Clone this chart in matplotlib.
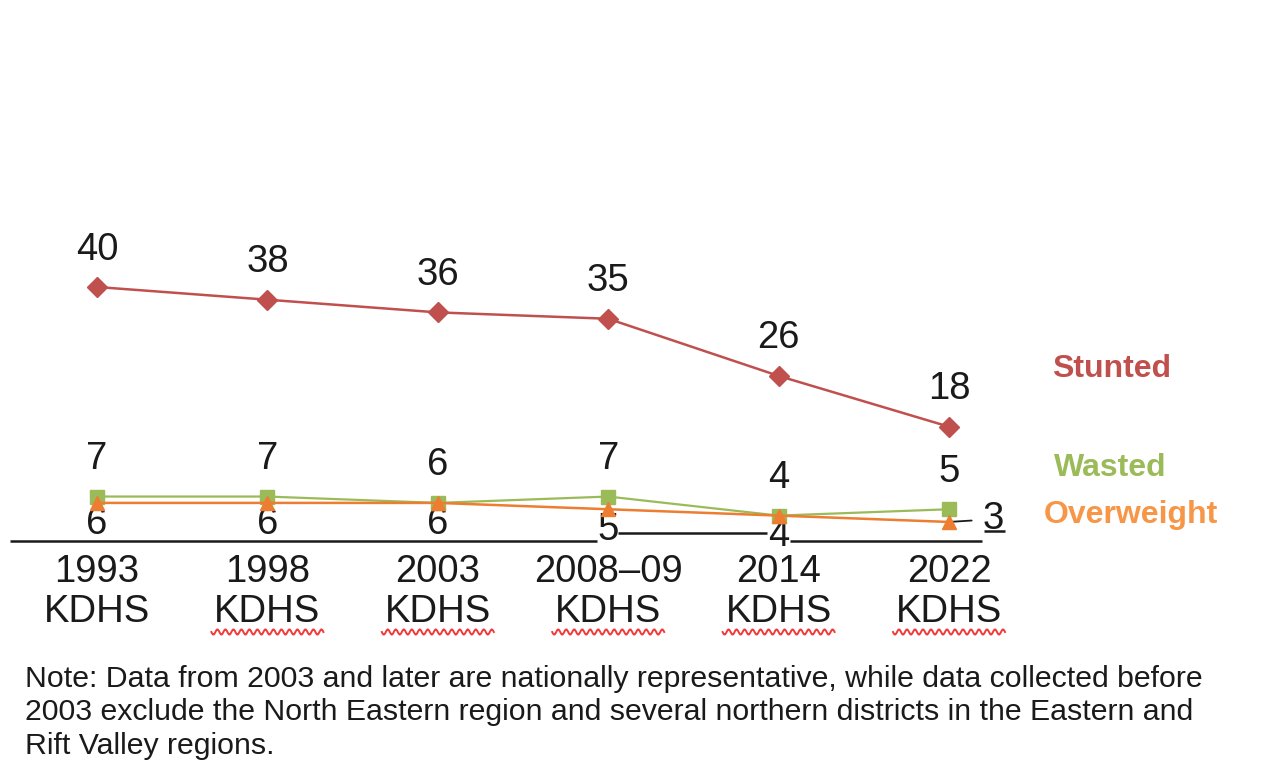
import matplotlib
matplotlib.use("Agg")
import matplotlib.pyplot as plt
import numpy as np

plt.rcParams["font.family"] = ["Liberation Sans", "DejaVu Sans"]

# ── data ─────────────────────────────────────────────────────────────────────
years = ["1993", "1998", "2003", "2008–09", "2014", "2022"]
survey = "KDHS"
stunted = [40, 38, 36, 35, 26, 18]
wasted = [7, 7, 6, 7, 4, 5]
overweight = [6, 6, 6, 5, 4, 3]

C_STUNT = "#C0504D"
C_WASTE = "#9BBB59"
C_OVER = "#ED7D31"
C_OVER_TXT = "#F79646"

NOTE = ("Note: Data from 2003 and later are nationally representative, while data collected before\n"
        "2003 exclude the North Eastern region and several northern districts in the Eastern and\n"
        "Rift Valley regions.")

# ── canvas: axes fill the whole figure, data mapped onto pixel grid ──────────
W, H = 1274, 762
X0, DX = 97, 170.4      # px of first category, px per category
Y0, DY = 541, 6.35      # px of value 0, px per unit

fig = plt.figure(figsize=(W / 100, H / 100), dpi=100)
ax = fig.add_axes([0, 0, 1, 1])
ax.set_xlim(-X0 / DX, (W - X0) / DX)
ax.set_ylim((Y0 - H) / DY, Y0 / DY)
ax.axis("off")

x = np.arange(len(years))
FS = 27.5

def px2x(p):
    return (p - X0) / DX

def py2y(p):
    return (Y0 - p) / DY

# baseline (with the small jogs around the last labels)
for xa, xb, yv in [(10, 597, 0), (618, 767, py2y(533)), (790, 982, 0), (984, 1005, py2y(531))]:
    ax.plot([px2x(xa), px2x(xb)], [yv, yv], color="#1a1a1a", lw=1.8,
            solid_capstyle="butt", zorder=1)

# series
ax.plot(x, stunted, color=C_STUNT, lw=1.8, marker="D", ms=10, zorder=3)
ax.plot(x, wasted, color=C_WASTE, lw=1.6, marker="s", ms=10.5, zorder=3)
ax.plot(x, overweight, color=C_OVER, lw=1.8, marker="^", ms=10.5, zorder=4)

# value labels
for i in range(len(years)):
    ax.annotate(str(stunted[i]), (x[i], stunted[i]), xytext=(0, 27),
                textcoords="offset points", ha="center", va="center",
                fontsize=FS, color="#1a1a1a")
    ax.annotate(str(wasted[i]), (x[i], wasted[i]), xytext=(0, 27),
                textcoords="offset points", ha="center", va="center",
                fontsize=FS, color="#1a1a1a")
    if i < len(years) - 1:
        ax.annotate(str(overweight[i]), (x[i], overweight[i]), xytext=(0, -15),
                    textcoords="offset points", ha="center", va="center",
                    fontsize=FS, color="#1a1a1a", zorder=2)
    else:
        ax.annotate(str(overweight[i]), (x[i], overweight[i]), xytext=(32, 2),
                    textcoords="offset points", ha="center", va="center",
                    fontsize=FS, color="#1a1a1a",
                    arrowprops=dict(arrowstyle="-", color="#1a1a1a", lw=1.3,
                                    shrinkA=6, shrinkB=0))

# category labels
for i, yr in enumerate(years):
    ax.text(x[i], py2y(572), yr, ha="center", va="center", fontsize=FS, color="#1a1a1a")
    ax.text(x[i], py2y(612), survey, ha="center", va="center", fontsize=FS, color="#1a1a1a")
    if i > 0:
        # wavy underline beneath the survey name
        xs = np.linspace(x[i] - 56 / DX, x[i] + 56 / DX, 160)
        ph = (xs - xs[0]) * DX
        ys = py2y(632 + 2.6 * np.sin(ph * 2 * np.pi / 8.0))
        ax.plot(xs, ys, color="#f23a3a", lw=1.4, zorder=1)

# series names
ax.text(px2x(1112), py2y(369), "Stunted", ha="center", va="center",
        fontsize=23, fontweight="bold", color=C_STUNT)
ax.text(px2x(1110), py2y(468), "Wasted", ha="center", va="center",
        fontsize=23, fontweight="bold", color=C_WASTE)
ax.text(px2x(1131), py2y(515), "Overweight", ha="center", va="center",
        fontsize=23, fontweight="bold", color=C_OVER_TXT)

# footnote
fig.text(25 / W, 1 - 665 / H, NOTE, ha="left", va="top", fontsize=21.8,
         color="#1a1a1a", linespacing=1.25)

fig.savefig("out.png", dpi=100, facecolor="white")
